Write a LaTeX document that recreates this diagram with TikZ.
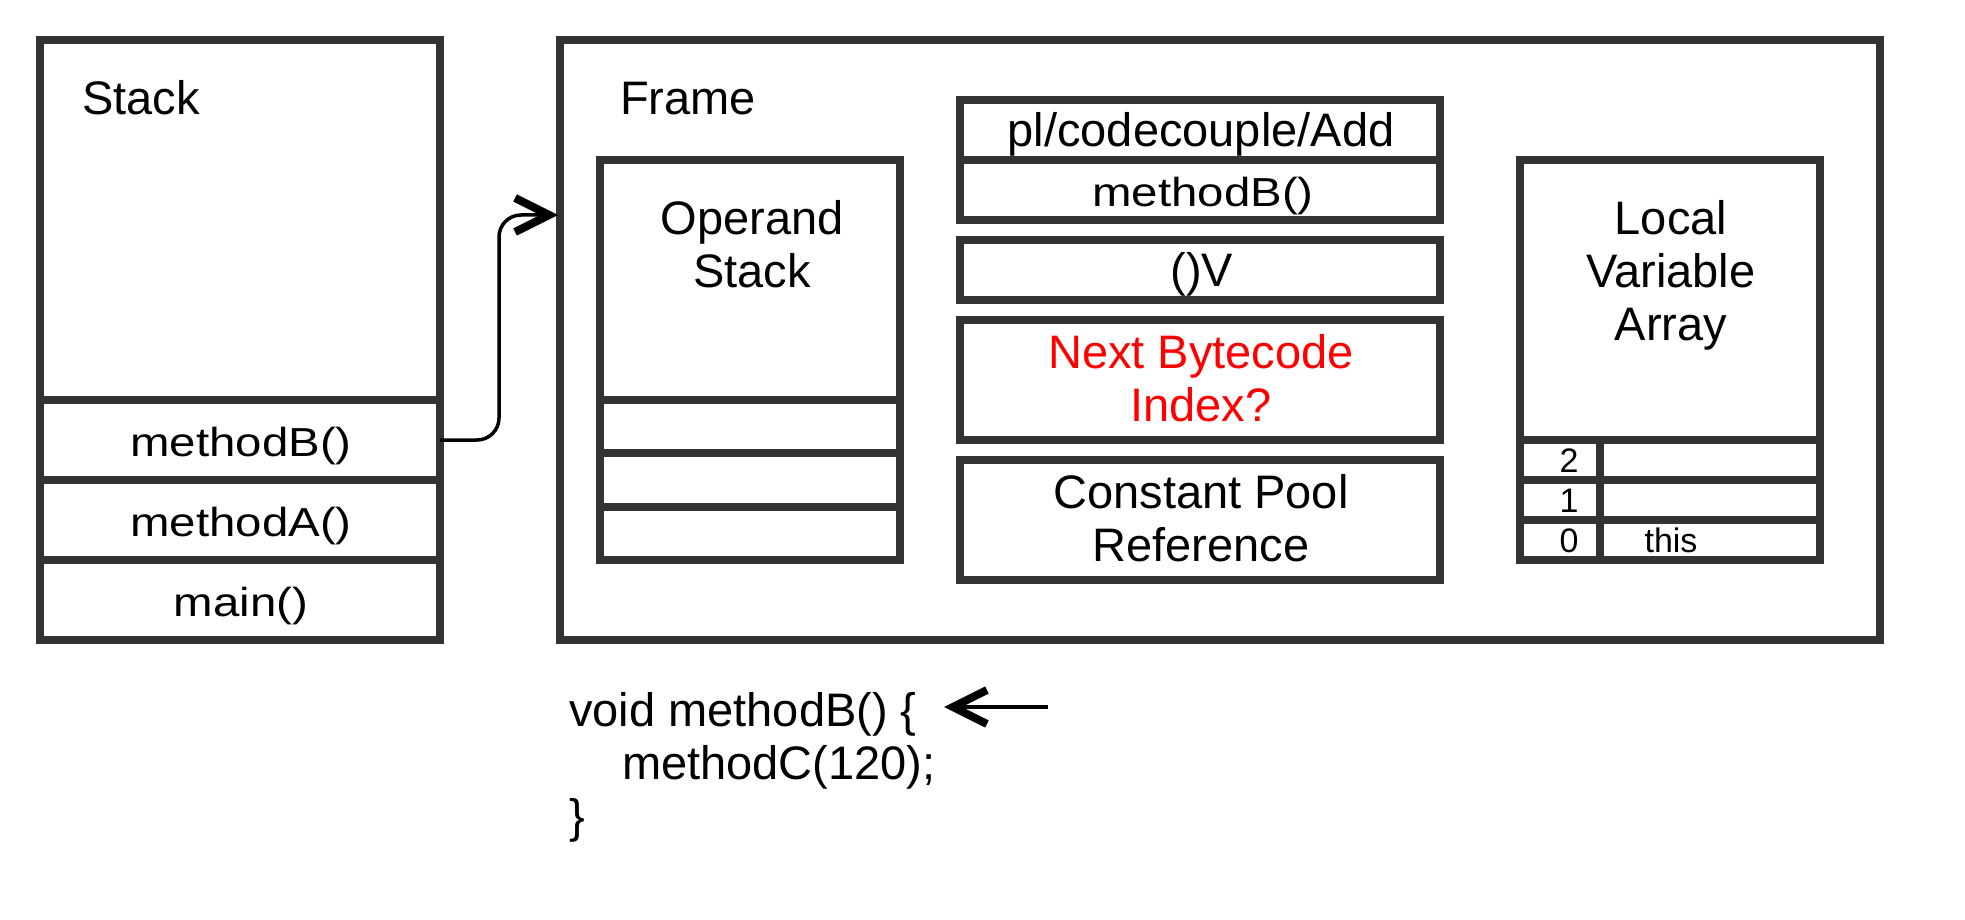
\documentclass[tikz,border=0pt]{standalone}
\usepackage{fontspec}
\setmainfont{Liberation Sans}
\usetikzlibrary{arrows.meta}
\definecolor{boxgray}{HTML}{333333}
\definecolor{hotred}{HTML}{FF0000}
\newcommand{\bigtxt}{\fontsize{47pt}{53pt}\selectfont}
\newcommand{\midtxt}{\fontsize{40.5pt}{46pt}\selectfont}
\newcommand{\smtxt}{\fontsize{34pt}{40pt}\selectfont}
\newcommand{\widetxt}[1]{\scalebox{1.17}[1]{#1}}
\begin{document}
\begin{tikzpicture}[x=1pt,y=-1pt,
  cell/.style={draw=boxgray, line width=8pt, inner sep=0pt, outer sep=0pt, anchor=north west},
  lbl/.style={inner sep=0pt, font=\bigtxt, text=black},
  mlbl/.style={inner sep=0pt, font=\midtxt, text=black, anchor=base},
  slbl/.style={inner sep=0pt, font=\smtxt, text=black, anchor=base},
  conn/.style={draw=black, line width=3.5pt, -{Straight Barb[length=34pt,width=34pt,line width'=8pt]}}]
\useasboundingbox (0,0) rectangle (1965,920);
% Stack
\node[cell, minimum width=400pt, minimum height=360pt] (stk) at (40,40) {};
\node[cell, minimum width=400pt, minimum height=80pt] (rowB) at (40,400) {};
\node[cell, minimum width=400pt, minimum height=80pt] (rowA) at (40,480) {};
\node[cell, minimum width=400pt, minimum height=80pt] (rowM) at (40,560) {};
\node[lbl, anchor=base west] (stklbl) at (82,115) {Stack};
\node[mlbl] (tB) at (241,456.5) {\widetxt{methodB()}};
\node[mlbl] (tA) at (241,536.5) {\widetxt{methodA()}};
\node[mlbl] (tM) at (241,616.5) {\widetxt{main()}};
% Frame
\node[cell, minimum width=1320pt, minimum height=600pt] (frame) at (560,40) {};
\node[lbl, anchor=base west] (framelbl) at (620,115) {Frame};
% Operand stack
\node[cell, minimum width=300pt, minimum height=240pt] (ops) at (600,160) {};
\node[cell, minimum width=300pt, minimum height=53.33pt] (op1) at (600,400) {};
\node[cell, minimum width=300pt, minimum height=53.33pt] (op2) at (600,453.33) {};
\node[cell, minimum width=300pt, minimum height=53.34pt] (op3) at (600,506.67) {};
\node[lbl, align=center, anchor=base] (opslbl) at (752,287) {Operand\\Stack};
% Middle column
\node[cell, minimum width=480pt, minimum height=60pt] (cls) at (960,100) {};
\node[cell, minimum width=480pt, minimum height=60pt] (mth) at (960,160) {};
\node[cell, minimum width=480pt, minimum height=60pt] (sig) at (960,240) {};
\node[cell, minimum width=480pt, minimum height=120pt] (nbi) at (960,320) {};
\node[cell, minimum width=480pt, minimum height=120pt] (cpr) at (960,460) {};
\node[lbl, anchor=base] (clslbl) at (1201,146.7) {pl/codecouple/Add};
\node[mlbl] (mthlbl) at (1203,206.7) {\widetxt{methodB()}};
\node[lbl, anchor=base] (siglbl) at (1202,286.7) {()V};
\node[lbl, align=center, anchor=base, text=hotred] (nbilbl) at (1201,421.7) {Next Bytecode\\Index?};
\node[lbl, align=center, anchor=base] (cprlbl) at (1201,561.7) {Constant Pool\\Reference};
% Local variable array
\node[cell, minimum width=300pt, minimum height=280pt] (lva) at (1520,160) {};
\node[cell, minimum width=80pt, minimum height=40pt] (i2) at (1520,440) {};
\node[cell, minimum width=220pt, minimum height=40pt] (v2) at (1600,440) {};
\node[cell, minimum width=80pt, minimum height=40pt] (i1) at (1520,480) {};
\node[cell, minimum width=220pt, minimum height=40pt] (v1) at (1600,480) {};
\node[cell, minimum width=80pt, minimum height=40pt] (i0) at (1520,520) {};
\node[cell, minimum width=220pt, minimum height=40pt] (v0) at (1600,520) {};
\node[lbl, align=center, anchor=base] (lvalbl) at (1671,340.7) {Local\\Variable\\Array};
\node[slbl] (n2) at (1569,472) {2};
\node[slbl] (n1) at (1569,512) {1};
\node[slbl] (n0) at (1569,552) {0};
\node[slbl] (thislbl) at (1671,552) {this};
% Code
\node[lbl, align=left, anchor=base west] (code) at (569,832) {void methodB() \{\\\hspace*{53pt}methodC(120);\\\}};
% Connectors
\coordinate (ftarget) at (558,215);
\draw[conn, rounded corners=22pt] (rowB.east) -| (499,215) -- (ftarget);
\coordinate (ctail) at (1048,707);
\coordinate (ctip) at (944,707);
\draw[conn] (ctail) -- (ctip);
\end{tikzpicture}
\end{document}
